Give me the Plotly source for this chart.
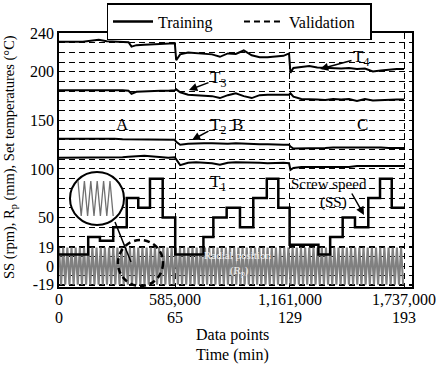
import plotly.graph_objects as go

# ---------------- data ----------------
# sample positions (data points) for the temperature traces
t_x = [0, 40000, 80000, 120000, 160000, 200000, 240000, 280000, 320000, 350000, 365000, 390000,
       430000, 470000, 510000, 550000, 583000,
       590000, 610000, 650000, 690000, 730000, 770000, 810000, 850000, 890000, 930000, 970000,
       1010000, 1050000, 1090000, 1130000, 1158000,
       1165000, 1180000, 1220000, 1260000, 1300000, 1340000, 1380000, 1420000, 1460000, 1500000,
       1540000, 1580000, 1620000, 1660000, 1700000, 1737000]

t4 = [231, 231, 231, 231, 232, 233, 231.5, 231, 231, 230.5, 226, 227.5, 228, 228.5, 228.5, 229, 229.5,
      212, 218, 220, 219.5, 219, 218, 215.5, 219, 218.5, 222, 217, 215, 215, 216, 216.5, 219,
      199, 204, 205, 206, 204.5, 204, 203.5, 203.5, 204, 203, 203.5, 200.5, 201.5, 202.5, 203, 203]
t3 = [181, 181, 181, 181.5, 181.5, 181, 181, 181, 181, 180.5, 177.5, 179.5, 180, 180, 180.5, 180.5, 181,
      182, 179, 176.5, 176, 176, 175, 173, 176, 178, 175, 173, 176, 176.5, 176.5, 176.5, 176.5,
      178, 174.5, 172, 172, 171.5, 171, 172, 171.5, 172, 170, 172, 170.5, 171, 171.5, 171.5, 171.5]
t2 = [131, 131, 131.5, 131, 131, 131, 131, 131, 130.5, 130.5, 130.5, 130.5, 130.5, 130, 130, 130.5, 130,
      128, 125, 126, 126.5, 126.5, 126.5, 126, 126, 126.5, 126, 126, 125.5, 125.5, 125, 125, 125,
      123, 121, 121, 121.5, 121.5, 121.5, 122, 122, 122, 122, 122.5, 122, 122, 121.5, 121.5, 121.5]
t1 = [111.5, 111.5, 112, 111.5, 111.5, 112, 112, 112, 112, 112.5, 112.5, 113, 113.5, 113, 112, 111.5, 112,
      110, 104, 106.5, 107, 106.5, 106, 104.5, 106.5, 107, 107, 106.5, 106.5, 106, 106.5, 106.5, 106,
      99, 101, 102, 102, 102, 102.5, 102, 102.5, 102, 103, 103, 102.5, 103, 102.5, 103, 103]

# screw speed step changes (rpm)
ss_x = [0, 147000, 206000, 273000, 341000, 399000, 458000, 522000, 585000,
        727000, 777000, 844000, 911000, 978000, 1046000, 1104000, 1161000,
        1306000, 1365000, 1428000, 1490000, 1557000, 1616000, 1675000, 1737000]
ss_y = [12, 30, 26, 40, 70, 60, 90, 50, 12,
        30, 50, 60, 40, 70, 90, 60, 22,
        12, 30, 50, 40, 70, 90, 60, 60]

# radial position: rapid oscillation between +/-19 mm
rp_levels = [19, -19]
rp_step = 10500
rp_end = 1737000
rp_x, rp_y = [], []
k = 0
while k * rp_step <= rp_end:
    rp_x.append(k * rp_step)
    rp_y.append(rp_levels[k % 2])
    k += 1

x_ticks = [0, 585000, 1161000, 1737000]
x_ticktext = ["0", "585,000", "1,161,000", "1,737,000"]
time_ticktext = ["0", "65", "129", "193"]
y_labels = {240: "240", 200: "200", 150: "150", 100: "100", 50: "50", 19: "19", 0: "0", -19: "-19"}
y_grid = list(range(-20, 241, 10))

# ---------------- geometry helpers ----------------
L, R, T, B = 59, 412, 33, 287
X_MAX = 1777000
Y_MIN, Y_MAX = -21.5, 240


def px2x(px):
    return (px - L) / (R - L) * X_MAX


def py2y(py):
    return Y_MAX - (py - T) / (B - T) * (Y_MAX - Y_MIN)


def ppx(px):
    return (px - L) / (R - L)


def ppy(py):
    return (B - py) / (B - T)


FONT = "Liberation Serif, Times New Roman, serif"

fig = go.Figure()
fig.add_trace(go.Scatter(x=rp_x, y=rp_y, mode="lines", line=dict(color="#808080", width=2.1),
                         showlegend=False, hoverinfo="skip"))
for ys in (t1, t2, t3, t4):
    fig.add_trace(go.Scatter(x=t_x, y=ys, mode="lines", line=dict(color="black", width=2),
                             showlegend=False))
fig.add_trace(go.Scatter(x=ss_x, y=ss_y, mode="lines", line=dict(color="black", width=2.5, shape="hv"),
                         showlegend=False))
# legend entries
fig.add_trace(go.Scatter(x=[None], y=[None], mode="lines", name="Training",
                         line=dict(color="black", width=2.5)))
fig.add_trace(go.Scatter(x=[None], y=[None], mode="lines", name="Validation",
                         line=dict(color="black", width=2, dash="6px,4px")))

yticks = sorted(set(y_grid) | set(y_labels.keys()))
ytext = [y_labels.get(v, "") for v in yticks]

fig.update_layout(
    width=439, height=370,
    margin=dict(l=L, r=439 - R, t=T, b=370 - B, autoexpand=False),
    paper_bgcolor="white", plot_bgcolor="white",
    font=dict(family=FONT, color="black", size=16),
    showlegend=True,
    legend=dict(orientation="h", x=ppx(239), xanchor="center", y=ppy(3), yanchor="top",
                bordercolor="black", borderwidth=1.5, bgcolor="white",
                font=dict(family=FONT, size=16), itemwidth=40, tracegroupgap=0,
                entrywidth=76, entrywidthmode="pixels"),
    xaxis=dict(range=[0, X_MAX], tickmode="array", tickvals=x_ticks, ticktext=x_ticktext,
               showticklabels=False,
               showgrid=True, gridcolor="black", gridwidth=1, griddash="6px,4px",
               showline=True, linecolor="black", linewidth=1.5, mirror=True, ticks="", ticklen=0,
               zeroline=False),
    yaxis=dict(range=[Y_MIN, Y_MAX], tickmode="array", tickvals=yticks, ticktext=ytext,
               showgrid=True, gridcolor="black", gridwidth=1, griddash="6px,4px",
               showline=True, linecolor="black", linewidth=1.5, mirror=True, ticks="", ticklen=0,
               zeroline=False, tickfont=dict(family=FONT, size=16)),
)

ann = []


def ptext(px, py, text, size=16, color="black", **kw):
    d = dict(x=ppx(px), y=ppy(py), xref="paper", yref="paper", showarrow=False, text=text,
             xanchor="center", yanchor="middle", font=dict(size=size, color=color))
    d.update(kw)
    return d


# two rows of x labels: data points and time in minutes
for xv, t1_lab, t2_lab in zip(x_ticks, x_ticktext, time_ticktext):
    ann.append(dict(x=xv, y=ppy(299), xref="x", yref="paper", showarrow=False, text=t1_lab,
                    xanchor="center", yanchor="middle", font=dict(size=16)))
    ann.append(dict(x=xv, y=ppy(317), xref="x", yref="paper", showarrow=False, text=t2_lab,
                    xanchor="center", yanchor="middle", font=dict(size=16)))
# axis titles
ann.append(ptext(10, 157, "SS (rpm), R<sub>p</sub> (mm), Set temperatures (°C)", size=14.5,
                 textangle=-90))
ann.append(ptext(232, 335, "Data points"))
ann.append(ptext(232, 355, "Time (min)"))
# region labels
for lab, px in (("A", 122), ("B", 238), ("C", 362)):
    ann.append(ptext(px, 124, lab, size=17))
# temperature labels with arrows
arrow_common = dict(showarrow=True, arrowhead=2, arrowsize=1.1, arrowwidth=1.5, arrowcolor="black",
                    font=dict(size=17))
for lab, tip, txt in (("T<sub>4</sub>", (320, 69), (361, 58)),
                      ("T<sub>3</sub>", (189, 90), (218, 79)),
                      ("T<sub>2</sub>", (192, 140), (218, 126)),
                      ("T<sub>1</sub>", (195, 163), (218, 183))):
    ann.append(dict(x=px2x(tip[0]), y=py2y(tip[1]), ax=txt[0] - tip[0], ay=txt[1] - tip[1],
                    text=lab, **arrow_common))
# screw speed
ann.append(ptext(329, 184, "Screw speed", size=15))
ann.append(ptext(333, 203, "(SS)", size=15))
ann.append(dict(x=px2x(364), y=py2y(215), ax=-13, ay=-23, text="", showarrow=True, arrowhead=2,
                arrowsize=1.1, arrowwidth=1.5, arrowcolor="black"))
# radial position label
ann.append(ptext(237, 255, "Radial position", size=11, color="#f0f0f0"))
ann.append(ptext(240, 271, "(R<sub>p</sub>)", size=11, color="#f0f0f0"))
fig.update_layout(annotations=ann)

# inset magnifier decoration
shapes = []
shapes.append(dict(type="circle", xref="paper", yref="paper", x0=ppx(70), x1=ppx(124),
                   y0=ppy(225), y1=ppy(172), line=dict(color="black", width=2),
                   fillcolor="white", layer="above"))
zz = []
xs = 78
i = 0
while xs <= 116:
    zz.append((ppx(xs), ppy(181 if i % 2 == 0 else 216)))
    xs += 3.2
    i += 1
path = "M " + " L ".join(f"{a},{b}" for a, b in zz)
shapes.append(dict(type="path", xref="paper", yref="paper", path=path,
                   line=dict(color="#707070", width=1.3), layer="above"))
shapes.append(dict(type="line", xref="paper", yref="paper", x0=ppx(115), y0=ppy(222),
                   x1=ppx(131), y1=ppy(262), line=dict(color="black", width=1.5), layer="above"))
shapes.append(dict(type="circle", xref="paper", yref="paper", x0=ppx(118), x1=ppx(163),
                   y0=ppy(286), y1=ppy(240), line=dict(color="black", width=2.5, dash="6px,4px"),
                   layer="above"))
fig.update_layout(shapes=shapes)

fig.write_html("out.html", config={"displayModeBar": False},
               post_script="document.body.style.margin='0';")
